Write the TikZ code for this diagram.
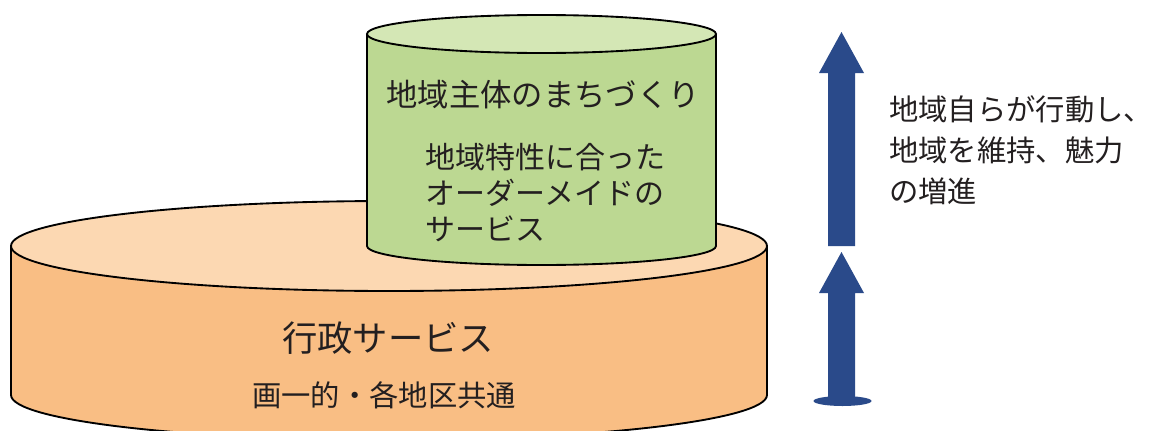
\documentclass[tikz,border=0pt]{standalone}
\usepackage{fontspec}
\setmainfont{Noto Sans CJK JP}
\usetikzlibrary{positioning}
\usepackage{xcolor}
\definecolor{orangeside}{HTML}{F9BE84}
\definecolor{orangetop}{HTML}{FCD8B2}
\definecolor{greenside}{HTML}{BCD892}
\definecolor{greentop}{HTML}{D4E7B5}
\definecolor{arrowblue}{HTML}{2A4A8A}
\definecolor{inkgray}{HTML}{231F20}

\begin{document}
\begin{tikzpicture}[x=0.75pt,y=0.75pt,
        outline/.style={draw=black,line width=1.4pt},
        bigtext/.style={inner sep=0,text=inkgray,font=\fontsize{23.5}{27}\selectfont},
        smalltext/.style={inner sep=0,text=inkgray,align=left,font=\fontsize{22.5}{27}\selectfont}]
            \useasboundingbox (0,0) rectangle (1154,430);
            \clip (0,0) rectangle (1154,430);
            \fill [white] (0,0) rectangle (1154,430);

            % lower cylinder
            \fill [orangeside] (11,184) -- (11,35) arc [start angle=180,end angle=360,x radius=378,y radius=45] -- (767,184) -- cycle;
            \draw [outline] (11,184) -- (11,35) arc [start angle=180,end angle=360,x radius=378,y radius=45] -- (767,184);
            \draw [outline,fill=orangetop] (389,184) ellipse [x radius=378,y radius=45];

            % upper cylinder
            \fill [greenside] (367,396) -- (367,184) arc [start angle=180,end angle=360,x radius=174.5,y radius=19] -- (716,396) -- cycle;
            \draw [outline] (367,396) -- (367,184) arc [start angle=180,end angle=360,x radius=174.5,y radius=19] -- (716,396);
            \draw [outline,fill=greentop] (541.5,396) ellipse [x radius=174.5,y radius=19];

            % arrows
            \fill [arrowblue] (828,184) -- (828,357) -- (819,357) -- (841.5,398) -- (864,357) -- (855,357) -- (855,184) -- cycle;
            \fill [arrowblue] (828,29) -- (828,137) -- (819,137) -- (841.5,178) -- (864,137) -- (855,137) -- (855,29) -- cycle;
            \fill [arrowblue] (842.5,29) ellipse [x radius=29,y radius=5];

            \node [bigtext] (local) at (543,335) {地域主体のまちづくり};
            \node [smalltext,anchor=west] (custom) at (425,237) {地域特性に合った\\オーダーメイドの\\サービス};
            \node [bigtext,font=\fontsize{26.5}{30}\selectfont] (admin) at (388,92) {行政サービス};
            \node [bigtext,font=\fontsize{22}{27}\selectfont] (common) at (384,35) {画一的・各地区共通};
            \node [smalltext,anchor=west,font=\fontsize{22}{30.75}\selectfont] (effect) at (889,280) {地域自らが行動し、\\地域を維持、魅力\\の増進};
        \end{tikzpicture}
\end{document}
